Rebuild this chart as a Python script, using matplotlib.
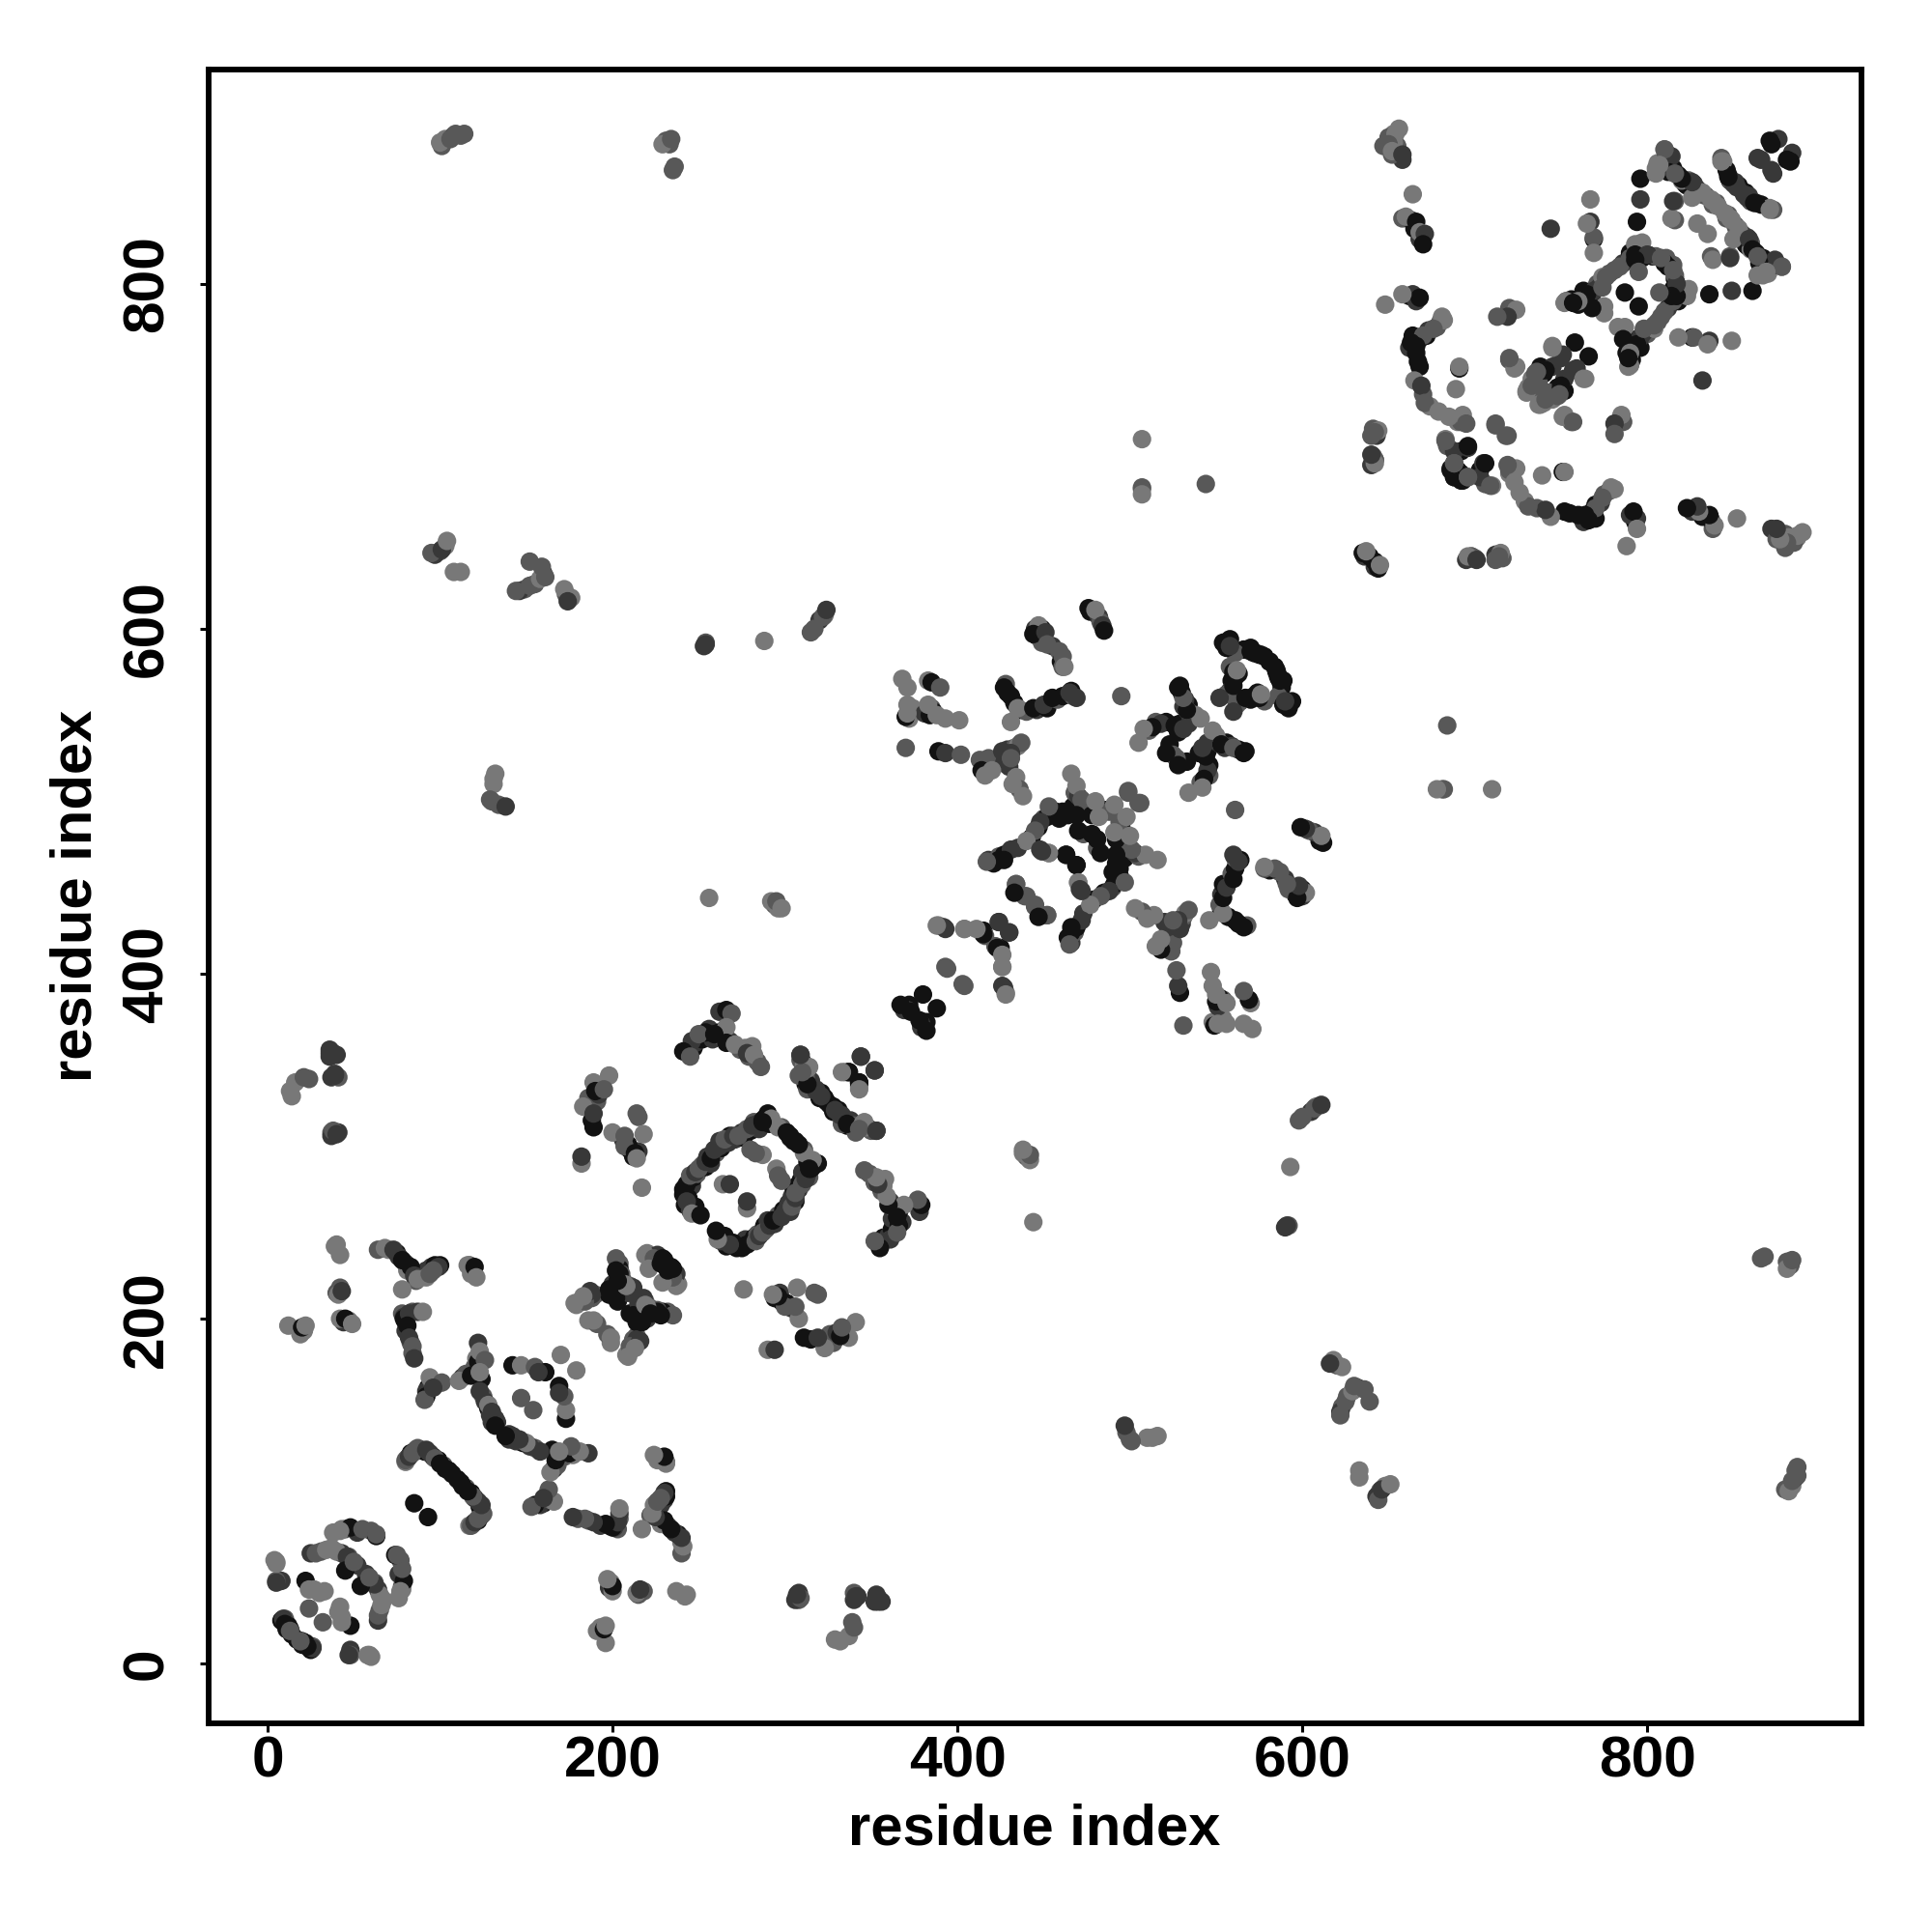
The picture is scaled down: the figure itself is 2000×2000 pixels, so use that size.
import matplotlib
matplotlib.use("Agg")
import matplotlib.pyplot as plt

# shade index -> grey level of the contact dot
shade_levels = ['#787878', '#585858', '#383838', '#121212']
tick_values = [0, 200, 400, 600, 800]
axis_label = 'residue index'

# contacts (residue i, residue j, shade index); the map is symmetric, so each is mirrored
stack_a = [(8,25,3),(10,26,1),(12,22,3),(17,14,3),(20,13,3),(8,48,2),(5,48,1),(4,60,0),(5,58,0),(45,78,1),(52,76,2),
           (60,77,1),(38,76,0),(25,64,2),(31,65,1),(37,67,0),(43,64,2),(48,60,2),(47,62,1),(52,57,2)]
stack_b = [(81,119,2),(83,122,3),(86,124,2),(89,124,1),(91,123,3),(96,120,3),(99,118,3),(102,115,1),(107,110,3),(80,117,0),
           (70,240,0),(75,238,3),(76,236,2),(80,232,2),(81,228,0),(86,222,1),(88,224,1),(90,226,2),(92,228,2),(95,230,2),
           (97,231,3),(100,231,3),(117,231,1),(118,226,0),(80,198,3),(78,203,1),(84,204,1),(79,201,2),(80,193,2),
           (83,186,1),(84,180,1)]
stack_c = [(93,160,3),(92,158,2),(95,164,1),(98,162,0),(113,166,2),(115,168,1),(120,172,1),(121,177,0),(122,175,3),
           (124,165,3),(125,155,1),(126,152,2),(128,148,3),(130,144,3),(130,140,2),(133,140,2),(129,144,2),(40,243,0),
           (21,193,0),(19,194,2),(44,198,2),(47,199,0),(40,215,1),(42,218,1)]
stack_d = [(204,232,1),(204,229,3),(203,215,3),(204,218,2),(206,222,1),(200,214,3),(201,218,3),(210,219,1),(205,226,1),
           (203,210,3),(209,215,2),(188,212,1),(186,213,2),(190,214,1),(181,210,0),(198,214,3),(200,220,2),(220,238,0),
           (226,237,2),(230,234,3),(232,230,3)]
stack_e = [(241,275,3),(243,274,3),(244,279,3),(246,277,2),(247,282,3),(249,284,1),(252,289,1),(254,288,3),(255,294,2),
           (257,290,2),(260,296,1),(262,303,2),(263,299,3),(267,302,2),(268,306,3),(271,304,2),(275,308,2),(276,305,3),
           (280,309,3),(282,314,1),(285,310,2),(288,316,3),(291,313,3),(298,311,1),(303,306,3),(305,303,3),(242,266,3),
           (245,263,2),(248,265,3),(244,270,3)]
stack_f = [(310,349,3),(309,350,1),(311,344,1),(312,336,3),(315,335,2),(316,334,3),(320,328,3),(324,326,3),(328,323,3),
           (331,320,2),(334,316,3),(338,315,2),(340,312,1),(347,311,0),(247,357,3),(244,356,3),(248,360,2),(252,362,3),
           (256,368,2),(258,362,2),(262,366,3),(264,363,1),(268,361,2),(274,356,1),(277,357,0),(279,352,1),(284,349,1)]
stack_g = [(190,335,2),(186,328,1),(191,326,1),(192,330,2),(188,315,3),(206,304,2),(210,298,3),(212,294,3),(215,297,2),
           (209,301,3),(372,382,3),(369,379,2)]
stack_h = [(418,466,2),(421,464,3),(424,468,1),(427,469,3),(435,473,2),(443,479,3),(447,485,3),(450,490,1),(452,491,3),
           (457,494,3),(459,490,3),(464,492,3),(467,497,3),(468,505,1),(470,503,2),(473,497,2),(476,496,1),(478,492,3),
           (485,495,3),(488,494,1)]
stack_i = [(426,527,1),(415,522,2),(417,520,3),(418,525,1),(428,525,2),(429,530,2),(433,531,1),(435,532,0),(430,520,2),
           (434,514,0),(436,507,1),(428,568,1),(429,563,3),(433,557,3),(436,553,3),(440,552,1),(446,553,2),(452,554,3),
           (458,559,1),(461,561,3),(467,561,1),(466,564,3),(445,600,2),(446,596,3),(449,600,3),(449,592,1),(455,590,2),
           (459,587,1),(460,581,3),(461,578,1),(477,610,3),(482,607,2),(483,604,1),(372,548,0),(374,554,0),(385,554,1),
           (381,551,2),(386,552,3)]
stack_j = [(530,563,3),(534,556,3),(531,555,2),(535,551,1),(538,550,0),(515,546,1),(511,541,1),(521,546,3),(529,545,3),
           (528,540,3),(534,545,2),(523,533,3),(527,525,1),(558,594,3),(556,590,3),(566,588,3),(570,589,3),(575,585,3),
           (581,581,3),(586,573,3),(558,578,1),(559,570,3),(561,572,3),(558,564,2),(556,562,1)]
stack_k = [(655,880,1),(658,838,1),(663,837,2),(665,832,3),(668,826,2),(662,793,3),(666,790,2),(680,778,1),(678,775,1),
           (673,773,2),(672,770,3),(668,768,3),(664,770,3),(662,763,2),(666,760,3),(667,755,3),(670,736,1),(674,729,0),
           (690,720,0),(692,720,1),(684,706,1),(692,703,3),(690,692,3),(688,688,3)]
stack_l = [(806,870,0),(811,868,2),(815,867,3),(822,858,3),(824,860,1),(829,855,2),(834,851,1),(840,847,1),(846,866,3),
           (848,860,3),(853,857,3),(856,852,2),(860,848,1),(843,873,1),(823,857,3),(838,846,1),(841,845,0)]
stack_m = [(753,790,1),(760,788,3),(763,796,3),(768,794,3),(771,800,1),(772,798,2),(778,806,1),(781,808,1),(786,812,2),
           (790,818,3),(797,815,3),(803,816,3),(811,815,1),(793,823,0),(775,787,0),(812,810,3),(816,805,1),(817,800,3),
           (815,796,3),(740,748,3),(738,752,3),(745,752,2),(733,745,0),(737,743,1),(731,740,0)]
stack_n = [(254,592,1),(253,590,2),(36,352,2),(38,354,1),(40,353,2),(37,340,2),(41,340,1),(37,308,1),(41,308,2),(100,645,1),
           (97,643,2),(130,500,1),(134,498,1),(131,510,0),(132,516,0),(38,308,2),(37,306,2),(39,342,2),(37,354,2),(36,356,2),
           (103,884,0),(101,880,1),(108,886,2),(112,886,1),(231,883,1),(235,866,1),(233,881,1),(507,681,0),(160,632,2),
           (155,626,1),(149,623,1),(173,620,1),(176,618,0),(146,622,2),(103,648,0),(320,605,2),(323,608,0),(317,600,1),
           (294,440,1),(296,438,0),(653,887,0),(647,880,1),(642,698,1),(643,712,2),(641,716,1),(636,642,2),(639,642,3),
           (640,695,2),(642,698,1),(640,712,1),(644,715,0),(658,872,2),(652,875,1),(650,885,1),(656,890,0),(653,882,0)]

region_a = [(43,78,0),(48,79,3),(55,78,1),(63,74,3),(63,75,1),(42,77,0),(28,64,1),(34,66,0),(40,65,0),(46,62,2),
            (45,54,3),(50,59,1),(5,47,2),(5,59,0),(9,26,2),(10,23,3),(11,20,3),(13,19,1),(22,48,3),(24,43,0),
            (27,43,0),(33,42,0),(24,32,1),(30,41,0)]
region_b = [(80,118,1),(82,120,2),(84,122,1),(87,125,1),(92,124,2),(94,122,2),(97,119,1),(100,116,3),
            (103,113,3),(105,112,3),(85,93,3)]
region_c = [(39,242,0),(42,237,0),(41,214,0),(43,216,2),(42,200,0),(45,200,3),(49,197,0),(19,191,0),(12,196,0),
            (20,195,3),(22,196,0)]
region_d = [(64,240,1),(68,241,0),(73,240,2),(78,234,3),(83,230,3),(85,225,2),(78,217,0),(87,223,0),(92,224,0),
            (99,230,2),(96,228,1),(94,226,1),(116,231,0),(120,230,3),(121,224,0)]
region_e = [(79,200,3),(82,203,2),(87,204,2),(90,204,0),(81,196,3),(82,189,2),(84,184,1),(85,177,2)]
region_f = [(94,166,0),(101,163,1),(92,155,3),(91,153,1),(96,160,2),(111,164,0),(118,167,3),(122,186,2),(123,181,0),
            (126,176,1),(123,169,0),(123,158,2),(128,150,0),(130,146,2),(132,142,2),(132,138,3)]
region_g = [(142,173,3),(147,173,0),(155,172,1),(161,169,3),(157,169,2),(170,179,0),(147,154,1)]
region_h = [(188,214,2),(179,208,0),(184,210,1),(202,235,1),(204,226,3),(202,212,3),(207,220,0),(212,218,2),
            (208,219,0),(203,222,3),(198,217,3),(202,228,3),(219,237,0),(224,235,1),(229,235,3),(221,229,0),
            (228,232,3),(186,199,0),(191,197,1),(189,199,0),(187,216,2),(183,213,0),(178,209,0)]
region_i = [(198,341,0),(189,337,0),(190,332,3),(183,323,0),(189,311,3),(189,319,2),(195,333,1),(182,290,0),(182,294,2),
            (214,319,1),(215,317,1),(218,307,0),(200,308,0),(207,306,1),(207,300,1),(213,296,3),(214,293,0),(217,276,0)]
region_j = [(262,378,2),(266,379,3),(269,377,1),(266,369,0),(254,366,3),(246,361,2),(241,355,3),(245,352,1),
            (250,365,1),(259,365,3),(266,360,3),(271,359,0),(281,358,0),(278,354,2),(282,353,0),(286,346,1)]
region_k = [(309,353,2),(308,341,1),(314,346,0),(313,333,1),(321,331,3),(318,332,2),(329,321,2),(333,318,2),(336,313,3),
            (345,313,0),(343,310,1),(353,309,2),(344,352,2),(335,343,0),(337,343,3),(343,337,3),(343,333,0),(352,344,2)]
region_l = [(369,381,3),(371,379,2),(367,382,3),(380,388,3),(373,378,3)]
region_m = [(241,272,3),(242,276,3),(243,278,3),(245,283,1),(248,285,2),(250,287,1),(254,291,2),(257,293,3),(259,298,2),
            (262,300,2),(265,304,1),(270,306,2),(273,306,1),(278,310,1),(281,312,2),(284,313,2),(287,315,3),(290,319,3),
            (292,316,0),(296,311,0),(287,314,3),(301,308,3),(243,268,2),(246,261,0),(251,260,3),(264,278,0),(268,278,2),
            (287,295,0),(283,296,1),(280,298,1)]
region_n = [(256,444,0),(292,442,0),(295,442,1),(298,438,0)]
region_o = [(389,428,0),(393,426,2),(404,426,0),(415,425,3),(416,422,1),(424,430,2),(430,424,2),(423,415,3),
            (426,411,0),(426,404,0),(394,403,1),(404,393,1),(427,392,2),(428,388,0)]
region_p = [(368,571,0),(371,566,0),(383,570,0),(385,569,3),(390,566,1),(370,549,3),(371,556,0),(371,551,0),(384,550,3),
            (383,556,0),(388,550,0),(393,548,0),(401,547,0),(370,531,1),(389,529,3),(393,528,2),(402,527,1)]
region_q = [(413,524,1),(414,518,3),(416,515,0),(426,529,2),(437,534,1),(431,528,2),(427,522,2),(432,510,0),(438,503,0),
            (420,518,0),(431,525,1)]
region_r = [(427,566,3),(431,561,3),(435,554,0),(431,546,0),(444,554,3),(450,556,2),(455,560,3),(465,563,2),(469,560,2)]
region_s = [(447,602,0),(444,597,3),(451,598,2),(452,591,1),(461,584,1),(462,578,0),(476,612,3),(480,611,0),(484,602,2),
            (485,599,3),(495,561,1)]
region_t = [(466,516,0),(469,509,0),(472,501,1),(469,492,3),(461,494,3),(455,493,3),(453,497,1),(448,488,2),(445,483,1),
            (440,477,0),(431,472,2),(424,466,3),(427,466,3),(417,465,1),(453,470,0),(448,472,2),(463,469,3),(469,463,3),
            (480,500,0),(482,491,0),(491,498,0),(499,505,1),(506,499,1),(473,481,1),(470,453,0),(471,449,2),(434,452,1),
            (439,445,1),(445,440,1),(452,434,1),(447,433,3),(478,481,3),(470,483,3)]
region_u = [(529,567,3),(532,559,2),(533,553,0),(541,548,0),(518,545,2),(513,543,3),(508,542,0),(505,534,0),(526,544,3),
            (531,542,2),(521,528,3),(533,553,3),(531,560,1),(528,566,3),(552,560,2)]
region_v = [(554,592,3),(561,586,1),(572,586,3),(578,584,3),(585,576,3),(587,570,3),(560,575,3),(563,574,3),(560,567,3),
            (562,576,0),(556,589,3),(558,590,2)]
region_w = [(654,887,0),(650,881,1),(652,877,0),(658,875,2),(664,852,0),(660,839,0),(666,836,3),(668,830,0),(671,829,2),
            (670,823,3)]
region_x = [(664,794,2),(668,792,3),(658,794,0),(648,788,0),(681,781,0),(682,779,0),(676,774,1),(670,770,1),(663,766,3),
            (666,764,3),(668,752,3),(665,744,0),(669,741,2),(671,731,1),(679,726,0),(685,723,0),(693,724,0),(695,719,1),
            (683,710,0),(688,703,2),(696,705,2),(706,696,3),(686,692,3),(693,686,3),(696,688,1),(709,683,1),(688,696,1)]
region_y = [(691,751,3),(691,752,0),(689,739,0),(720,786,1),(724,785,0),(719,781,2),(713,781,1),(744,832,2),(767,849,0),
            (767,836,2),(769,826,3),(769,827,1),(769,818,0),(765,835,0),(712,718,1),(719,712,1),(720,756,1),(723,751,0),
            (642,714,1),(641,700,1),(642,696,0),(635,644,3),(637,645,0),(640,701,2)]
region_z = [(745,764,0),(758,766,3),(750,757,2),(739,750,3),(735,748,1),(751,759,2),(745,763,0),(741,750,3),(734,738,1),
            (730,738,0),(730,737,0),(733,741,1),(736,749,1),(724,752,0),(720,757,1)]
region_aa = [(796,861,3),(796,849,2),(794,836,3),(805,867,0),(810,878,0),(814,874,2),(812,865,3),(818,863,3),(820,860,0),
             (827,858,2),(831,852,1),(837,849,0),(816,848,1),(816,837,1),(844,871,0),(847,863,3),(851,859,2),(858,850,2),
             (862,847,3),(871,843,0),(829,835,0),(814,838,0),(815,848,2)]
region_ab = [(838,848,0),(832,853,0),(826,850,0),(826,859,2),(820,861,3),(816,864,1),(811,875,2),(810,878,1),(805,864,0),
             (807,869,0),(876,884,2),(866,872,2),(872,881,3),(864,873,2),(871,883,3)]
region_ac = [(787,795,3),(797,824,0),(790,815,1),(784,810,1),(793,817,3),(800,817,2),(808,815,1),(774,804,0),(769,796,2),
             (765,794,3),(756,791,3),(752,789,0),(775,783,0),(793,814,3),(795,807,1),(768,786,3),(760,790,0),(753,790,0),
             (757,789,3),(774,798,1),(776,804,1)]
region_ad = [(100,882,0),(106,884,1),(109,887,1),(114,887,1),(229,881,0),(234,884,1),(236,868,1),(95,644,1),(101,646,2),
             (104,651,0),(108,633,0),(112,633,0),(144,622,1),(152,625,1),(158,629,0),(152,639,1),(161,630,1),(172,623,0),
             (174,616,2),(159,636,1),(131,513,0),(129,501,1),(138,497,2),(254,591,2),(288,593,0),(315,598,1),(322,607,1),
             (324,611,2),(16,337,0),(24,339,1),(13,332,0),(14,329,0),(36,354,2),(39,341,2),(38,309,1),(40,307,2),(21,340,1),
             (507,710,0),(507,682,1),(507,678,0),(544,684,1)]

regions = [stack_a, stack_b, stack_c, stack_d, stack_e, stack_f, stack_g, stack_h, stack_i, stack_j, stack_k, stack_l,
           stack_m, stack_n,
           region_a, region_b, region_c, region_d, region_e, region_f, region_g, region_h, region_i, region_j,
           region_k, region_l, region_m, region_n, region_o, region_p, region_q, region_r, region_s, region_t,
           region_u, region_v, region_w, region_x, region_y, region_z, region_aa, region_ab, region_ac, region_ad]

plt.rcParams['font.family'] = ['Liberation Sans', 'DejaVu Sans']
plt.rcParams['font.weight'] = 'bold'

W = H = 2000
fig = plt.figure(figsize=(W / 100, H / 100), dpi=100, facecolor='white')
ax = fig.add_axes([216 / W, 1 - 1784 / H, (1927 - 216) / W, (1784 - 72) / H])

xs, ys, cols = [], [], []
for region in regions:
    for a, b, s in region:
        xs += [a, b]
        ys += [b, a]
        cols += [shade_levels[s], shade_levels[s]]
ax.scatter(xs, ys, c=cols, s=190, linewidths=0, zorder=3)

ax.set_xlim(-34.2, 924.2)
ax.set_ylim(-34.6, 924.3)
ax.set_xticks(tick_values)
ax.set_yticks(tick_values)
ax.set_xticklabels([str(v) for v in tick_values], fontsize=43.5, fontweight='bold')
ax.set_yticklabels([str(v) for v in tick_values], fontsize=43.5, fontweight='bold', rotation=90, va='center')
ax.tick_params(axis='x', length=6.7, width=2.2, pad=2, color='black')
ax.tick_params(axis='y', length=6.7, width=2.2, pad=19, color='black')
for sp in ax.spines.values():
    sp.set_linewidth(4.2)
    sp.set_capstyle('projecting')

fig.text(1071 / W, 1 - 1894 / H, axis_label, fontsize=43, fontweight='bold', ha='center', va='center')
fig.text(79 / W, 1 - 927 / H, axis_label, fontsize=43, fontweight='bold', ha='center', va='center', rotation=90)

fig.savefig('out.png', dpi=100, facecolor='white')
